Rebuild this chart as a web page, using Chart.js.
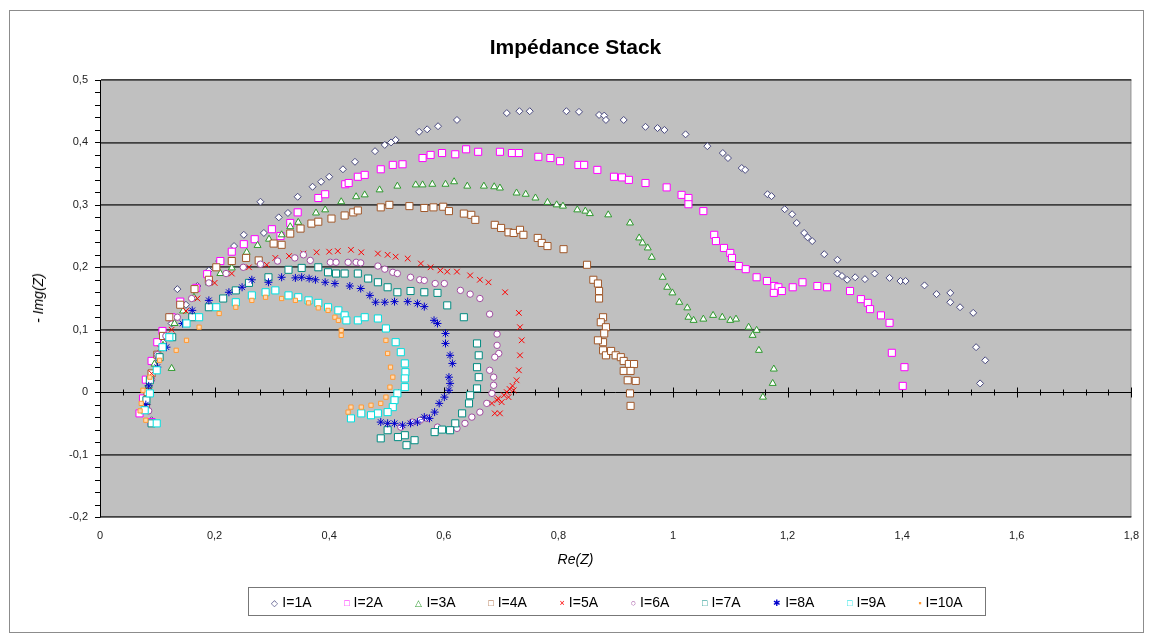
<!DOCTYPE html>
<html lang="fr">
<head>
<meta charset="UTF-8">
<title>Impédance Stack</title>
<script src="https://cdn.jsdelivr.net/npm/chart.js"></script>
<style>
    body { margin: 0; background: #fff; font-family: 'Liberation Sans', Arial, sans-serif; color: #000; }
    #wrap { position: relative; width: 1151px; height: 641px; }
    #frame { position: absolute; left: 9px; top: 10px; width: 1133px; height: 621px; border: 1px solid #8c8c8c; }
    canvas { position: absolute; left: 0; top: 0; }
    .title { position: absolute; top: 35px; left: 0; width: 1151px; text-align: center; font-weight: bold; font-size: 21px; }
    .xt { position: absolute; top: 551px; left: 0; width: 1151px; text-align: center; font-style: italic; font-size: 14px; }
    .yt { position: absolute; left: 38px; top: 298px; transform: translate(-50%, -50%) rotate(-90deg); font-style: italic; font-size: 14px; white-space: nowrap; }
    #legend { position: absolute; left: 248px; top: 587px; width: 738px; height: 29px; border: 1px solid #777; display: flex; align-items: center; justify-content: space-around; font-size: 14px; padding: 0 6px; box-sizing: border-box; }
    #legend span.m { font-size: 9px; margin-right: 4px; vertical-align: 1px; }
</style>
</head>
<body>
<div id="wrap">
    <div id="frame"></div>
    <canvas id="chart" width="1151" height="641"></canvas>
    <div class="title">Impédance Stack</div>
    <div class="xt">Re(Z)</div>
    <div class="yt">- Img(Z)</div>
    <div id="legend"></div>
</div>
<script>
// Re(Z), -Im(Z) pairs, one array per current
const i1A = [[0.09,-0.045],[0.082,-0.02],[0.085,0.01],[0.095,0.045],[0.11,0.08],[0.125,0.11],[0.135,0.165],[0.15,0.14],[0.17,0.17],[0.19,0.195],[0.208,0.21],[0.234,0.234],[0.251,0.252],[0.28,0.305],[0.286,0.255],[0.312,0.28],[0.328,0.287],[0.345,0.313],[0.371,0.329],[0.386,0.337],[0.4,0.345],[0.424,0.357],[0.445,0.369],[0.48,0.386],[0.497,0.396],[0.508,0.4],[0.516,0.404],[0.557,0.417],[0.571,0.421],[0.59,0.426],[0.623,0.436],[0.71,0.447],[0.732,0.45],[0.75,0.45],[0.814,0.45],[0.836,0.449],[0.871,0.444],[0.88,0.443],[0.883,0.436],[0.914,0.436],[0.952,0.425],[0.973,0.423],[0.985,0.42],[1.022,0.413],[1.06,0.394],[1.087,0.383],[1.096,0.375],[1.12,0.359],[1.126,0.356],[1.165,0.317],[1.172,0.314],[1.195,0.293],[1.208,0.285],[1.216,0.271],[1.229,0.255],[1.235,0.248],[1.243,0.242],[1.264,0.221],[1.287,0.212],[1.287,0.19],[1.295,0.186],[1.304,0.18],[1.318,0.184],[1.335,0.181],[1.352,0.19],[1.378,0.183],[1.397,0.178],[1.406,0.178],[1.439,0.171],[1.46,0.157],[1.484,0.159],[1.484,0.144],[1.501,0.136],[1.524,0.127],[1.529,0.072],[1.545,0.051],[1.536,0.014]];
const i2A = [[0.069,-0.034],[0.09,-0.048],[0.075,-0.01],[0.08,0.02],[0.09,0.05],[0.1,0.08],[0.109,0.098],[0.125,0.12],[0.14,0.145],[0.168,0.167],[0.187,0.189],[0.21,0.21],[0.23,0.225],[0.251,0.237],[0.27,0.245],[0.3,0.261],[0.315,0.25],[0.332,0.271],[0.345,0.288],[0.381,0.311],[0.393,0.317],[0.428,0.333],[0.434,0.335],[0.45,0.345],[0.462,0.348],[0.49,0.357],[0.511,0.364],[0.528,0.365],[0.563,0.375],[0.577,0.38],[0.597,0.383],[0.62,0.381],[0.639,0.389],[0.66,0.385],[0.698,0.385],[0.719,0.383],[0.731,0.383],[0.765,0.377],[0.786,0.375],[0.803,0.37],[0.835,0.364],[0.845,0.364],[0.868,0.356],[0.897,0.345],[0.911,0.344],[0.923,0.34],[0.952,0.335],[0.989,0.328],[1.015,0.316],[1.027,0.311],[1.027,0.301],[1.053,0.29],[1.072,0.252],[1.075,0.242],[1.089,0.231],[1.1,0.223],[1.103,0.215],[1.115,0.202],[1.127,0.197],[1.146,0.184],[1.164,0.178],[1.177,0.17],[1.184,0.168],[1.19,0.162],[1.176,0.159],[1.209,0.168],[1.226,0.176],[1.252,0.17],[1.269,0.168],[1.309,0.162],[1.328,0.149],[1.34,0.143],[1.344,0.133],[1.363,0.123],[1.378,0.111],[1.382,0.063],[1.404,0.04],[1.401,0.01]];
const i3A = [[0.08,-0.03],[0.085,0.01],[0.095,0.045],[0.11,0.075],[0.125,0.038],[0.13,0.11],[0.145,0.13],[0.164,0.152],[0.19,0.175],[0.21,0.19],[0.23,0.199],[0.256,0.224],[0.275,0.235],[0.295,0.245],[0.317,0.252],[0.332,0.265],[0.346,0.272],[0.377,0.287],[0.393,0.292],[0.421,0.305],[0.447,0.313],[0.462,0.316],[0.488,0.324],[0.519,0.33],[0.551,0.332],[0.563,0.332],[0.58,0.333],[0.603,0.333],[0.618,0.337],[0.641,0.33],[0.67,0.33],[0.688,0.329],[0.698,0.327],[0.727,0.319],[0.743,0.317],[0.76,0.311],[0.781,0.304],[0.797,0.3],[0.808,0.298],[0.833,0.292],[0.847,0.29],[0.855,0.286],[0.887,0.284],[0.925,0.271],[0.941,0.247],[0.947,0.239],[0.956,0.231],[0.963,0.216],[0.982,0.184],[0.99,0.168],[0.999,0.159],[1.011,0.144],[1.025,0.135],[1.027,0.12],[1.036,0.115],[1.053,0.117],[1.07,0.123],[1.086,0.12],[1.1,0.115],[1.11,0.117],[1.132,0.104],[1.146,0.099],[1.139,0.091],[1.15,0.067],[1.176,0.037],[1.174,0.014],[1.157,-0.008]];
const i4A = [[0.08,-0.025],[0.083,0.0],[0.09,0.03],[0.1,0.06],[0.11,0.09],[0.121,0.12],[0.14,0.14],[0.165,0.165],[0.19,0.18],[0.203,0.2],[0.23,0.21],[0.255,0.215],[0.277,0.211],[0.303,0.238],[0.317,0.236],[0.332,0.254],[0.35,0.262],[0.369,0.27],[0.381,0.273],[0.404,0.278],[0.427,0.283],[0.442,0.288],[0.45,0.291],[0.49,0.296],[0.505,0.3],[0.54,0.298],[0.566,0.295],[0.582,0.296],[0.599,0.297],[0.609,0.29],[0.635,0.286],[0.648,0.284],[0.655,0.276],[0.689,0.268],[0.7,0.263],[0.713,0.256],[0.722,0.255],[0.733,0.26],[0.739,0.252],[0.764,0.247],[0.771,0.239],[0.781,0.234],[0.809,0.229],[0.85,0.204],[0.861,0.18],[0.869,0.174],[0.871,0.162],[0.871,0.15],[0.878,0.12],[0.874,0.112],[0.883,0.104],[0.88,0.094],[0.878,0.08],[0.869,0.083],[0.878,0.067],[0.883,0.059],[0.892,0.066],[0.9,0.059],[0.909,0.056],[0.914,0.05],[0.923,0.045],[0.932,0.045],[0.914,0.034],[0.926,0.034],[0.921,0.019],[0.935,0.018],[0.925,-0.002],[0.926,-0.022]];
const i5A = [[0.08,-0.02],[0.09,0.03],[0.105,0.07],[0.125,0.1],[0.15,0.13],[0.17,0.15],[0.2,0.175],[0.23,0.19],[0.26,0.2],[0.291,0.204],[0.306,0.215],[0.33,0.218],[0.355,0.222],[0.378,0.224],[0.4,0.225],[0.415,0.226],[0.438,0.228],[0.456,0.224],[0.485,0.222],[0.502,0.22],[0.516,0.217],[0.537,0.214],[0.56,0.206],[0.577,0.2],[0.594,0.195],[0.606,0.193],[0.623,0.193],[0.646,0.187],[0.663,0.18],[0.678,0.176],[0.707,0.16],[0.731,0.127],[0.733,0.104],[0.736,0.083],[0.733,0.059],[0.731,0.035],[0.727,0.019],[0.72,0.01],[0.722,0.003],[0.715,0.005],[0.71,0.0],[0.713,-0.008],[0.705,-0.005],[0.695,-0.01],[0.701,-0.016],[0.693,-0.013],[0.684,-0.018],[0.689,-0.034],[0.698,-0.034]];
const i6A = [[0.085,-0.03],[0.09,0.02],[0.1,0.06],[0.115,0.09],[0.135,0.12],[0.16,0.15],[0.19,0.175],[0.22,0.19],[0.25,0.2],[0.28,0.205],[0.31,0.21],[0.34,0.215],[0.355,0.22],[0.367,0.211],[0.402,0.208],[0.412,0.208],[0.433,0.208],[0.447,0.208],[0.455,0.207],[0.485,0.202],[0.497,0.197],[0.511,0.192],[0.519,0.19],[0.542,0.184],[0.558,0.18],[0.566,0.179],[0.585,0.174],[0.601,0.174],[0.629,0.163],[0.646,0.157],[0.663,0.15],[0.68,0.125],[0.693,0.093],[0.693,0.075],[0.696,0.062],[0.689,0.056],[0.68,0.035],[0.687,0.024],[0.687,0.011],[0.684,-0.002],[0.675,-0.018],[0.663,-0.032],[0.649,-0.04],[0.637,-0.05],[0.623,-0.058],[0.611,-0.061],[0.589,-0.056],[0.571,-0.042],[0.559,-0.045],[0.545,-0.048],[0.525,-0.056]];
const i7A = [[0.09,-0.05],[0.081,-0.013],[0.087,0.019],[0.104,0.056],[0.126,0.088],[0.161,0.12],[0.19,0.136],[0.215,0.15],[0.237,0.163],[0.26,0.175],[0.294,0.184],[0.329,0.196],[0.352,0.199],[0.381,0.2],[0.398,0.192],[0.412,0.19],[0.427,0.19],[0.45,0.19],[0.468,0.182],[0.485,0.176],[0.502,0.168],[0.519,0.16],[0.542,0.162],[0.566,0.16],[0.589,0.159],[0.606,0.139],[0.635,0.12],[0.658,0.078],[0.661,0.059],[0.658,0.04],[0.661,0.024],[0.658,0.006],[0.646,-0.005],[0.644,-0.018],[0.632,-0.034],[0.62,-0.05],[0.611,-0.061],[0.597,-0.06],[0.584,-0.064],[0.549,-0.077],[0.535,-0.085],[0.532,-0.069],[0.52,-0.072],[0.502,-0.061],[0.49,-0.074]];
const i8A = [[0.08,-0.02],[0.085,0.01],[0.1,0.04],[0.116,0.072],[0.144,0.11],[0.161,0.131],[0.19,0.147],[0.225,0.16],[0.248,0.168],[0.265,0.18],[0.294,0.176],[0.317,0.184],[0.341,0.183],[0.352,0.184],[0.365,0.182],[0.376,0.18],[0.393,0.176],[0.41,0.174],[0.436,0.17],[0.455,0.166],[0.471,0.155],[0.481,0.144],[0.497,0.144],[0.514,0.145],[0.537,0.145],[0.554,0.142],[0.566,0.137],[0.583,0.115],[0.589,0.11],[0.603,0.094],[0.603,0.078],[0.611,0.059],[0.615,0.046],[0.609,0.024],[0.611,0.014],[0.609,0.003],[0.601,-0.008],[0.592,-0.018],[0.584,-0.032],[0.575,-0.042],[0.566,-0.04],[0.554,-0.048],[0.542,-0.05],[0.528,-0.053],[0.514,-0.05],[0.502,-0.05],[0.49,-0.048]];
const i9A = [[0.099,-0.05],[0.078,-0.029],[0.087,-0.002],[0.099,0.035],[0.109,0.072],[0.121,0.088],[0.151,0.11],[0.173,0.12],[0.203,0.136],[0.237,0.144],[0.265,0.155],[0.289,0.16],[0.306,0.163],[0.329,0.155],[0.346,0.152],[0.364,0.147],[0.381,0.143],[0.398,0.136],[0.416,0.131],[0.427,0.123],[0.43,0.115],[0.45,0.115],[0.462,0.12],[0.485,0.118],[0.499,0.102],[0.516,0.08],[0.525,0.064],[0.532,0.046],[0.533,0.032],[0.532,0.022],[0.532,0.008],[0.519,-0.002],[0.514,-0.013],[0.511,-0.024],[0.502,-0.032],[0.485,-0.034],[0.473,-0.037],[0.456,-0.034],[0.438,-0.042]];
const i10A = [[0.08,-0.045],[0.07,-0.03],[0.072,-0.018],[0.075,0.003],[0.087,0.024],[0.104,0.051],[0.133,0.067],[0.151,0.083],[0.173,0.104],[0.208,0.126],[0.237,0.136],[0.265,0.147],[0.289,0.152],[0.317,0.15],[0.341,0.147],[0.364,0.143],[0.381,0.135],[0.398,0.131],[0.41,0.12],[0.416,0.115],[0.421,0.099],[0.421,0.091],[0.499,0.083],[0.502,0.062],[0.507,0.04],[0.511,0.024],[0.506,0.008],[0.499,-0.008],[0.49,-0.018],[0.473,-0.021],[0.456,-0.024],[0.438,-0.024],[0.433,-0.032]];

const seriesNames = ['I=1A', 'I=2A', 'I=3A', 'I=4A', 'I=5A', 'I=6A', 'I=7A', 'I=8A', 'I=9A', 'I=10A'];
const seriesData = [i1A, i2A, i3A, i4A, i5A, i6A, i7A, i8A, i9A, i10A];
const xTicks = [0, 0.2, 0.4, 0.6, 0.8, 1, 1.2, 1.4, 1.6, 1.8];
const yTicks = [-0.2, -0.1, 0, 0.1, 0.2, 0.3, 0.4, 0.5];

// marker look per series (Excel 2003 style)
const looks = [
    { style: 'rectRot',   color: '#4a4a80', fill: '#ffffff', r: 3.5, glyph: '\u25C7' },
    { style: 'rect',      color: '#ff00ff', fill: '#ffffff', r: 5,   glyph: '\u25A1' },
    { style: 'triangle',  color: '#2e9a2e', fill: '#ffffff', r: 4,   glyph: '\u25B3' },
    { style: 'rect',      color: '#a0582a', fill: '#ffffff', r: 5,   glyph: '\u25A1' },
    { style: 'crossRot',  color: '#ff0000', fill: '#ff0000', r: 4,   glyph: '\u00D7' },
    { style: 'circle',    color: '#a04ca0', fill: '#ffffff', r: 3.2, glyph: '\u25CB' },
    { style: 'rect',      color: '#008b80', fill: '#ffffff', r: 5,   glyph: '\u25A1' },
    { style: 'star',      color: '#0000cc', fill: '#0000cc', r: 4,   glyph: '\u2731' },
    { style: 'rect',      color: '#00dede', fill: '#ffffff', r: 5,   glyph: '\u25A1' },
    { style: 'rect',      color: '#ff9933', fill: '#ffd9b0', r: 3,   glyph: '\u25AA' }
];

function fmt(v) {
    return String(Number(v.toFixed(2))).replace('.', ',');
}

const datasets = seriesData.map((pts, i) => ({
    label: seriesNames[i],
    data: pts.map(p => ({ x: p[0], y: p[1] })),
    showLine: false,
    pointStyle: looks[i].style,
    pointRadius: looks[i].r,
    pointBorderWidth: 1,
    borderColor: looks[i].color,
    backgroundColor: looks[i].fill,
    order: 10 - i // later series on top, like Excel
}));

const plotBg = {
    id: 'plotBg',
    beforeDraw(chart) {
        const { ctx, chartArea: a } = chart;
        ctx.save();
        ctx.fillStyle = '#c0c0c0';
        ctx.fillRect(a.left, a.top, a.right - a.left, a.bottom - a.top);
        ctx.strokeStyle = '#9a9a9a';
        ctx.beginPath();
        ctx.moveTo(a.right - 0.5, a.top);
        ctx.lineTo(a.right - 0.5, a.bottom);
        ctx.stroke();
        ctx.restore();
    }
};

// x axis crossing at y = 0 and the small tick marks
const axisMarks = {
    id: 'axisMarks',
    beforeDatasetsDraw(chart) {
        const { ctx, chartArea: a, scales: { x, y } } = chart;
        const y0 = Math.round(y.getPixelForValue(0)) + 0.5;
        ctx.save();
        ctx.strokeStyle = '#000';
        ctx.lineWidth = 1;
        ctx.beginPath();
        ctx.moveTo(a.left, y0);
        ctx.lineTo(a.right, y0);
        for (let k = 0; k <= 45; k++) {
            const px = Math.round(x.getPixelForValue(k * 0.04)) + 0.5;
            const h = k % 5 === 0 ? 5 : 3;
            ctx.moveTo(px, y0 - h);
            ctx.lineTo(px, y0 + h);
        }
        for (let k = 0; k <= 35; k++) {
            const py = Math.round(y.getPixelForValue(-0.2 + k * 0.02)) + 0.5;
            ctx.moveTo(a.left - 5, py);
            ctx.lineTo(a.left, py);
        }
        ctx.stroke();
        ctx.restore();
    }
};

new Chart(document.getElementById('chart').getContext('2d'), {
    type: 'scatter',
    data: { datasets },
    options: {
        responsive: false,
        animation: false,
        events: [],
        layout: { padding: { left: 10, top: 80, right: 16, bottom: 0 } },
        plugins: { legend: { display: false }, title: { display: false }, tooltip: { enabled: false } },
        scales: {
            x: {
                type: 'linear',
                min: 0, max: 1.8,
                afterFit(s) { s.height = 124; },
                afterBuildTicks(s) { s.ticks = xTicks.map(v => ({ value: v })); },
                grid: { display: false, drawTicks: false },
                border: { display: false },
                ticks: { callback: fmt, padding: 12, color: '#222', font: { family: "'Liberation Sans', Arial, sans-serif", size: 11 }, maxRotation: 0 }
            },
            y: {
                type: 'linear',
                min: -0.2, max: 0.5,
                afterFit(s) { s.width = 90; },
                afterBuildTicks(s) { s.ticks = yTicks.map(v => ({ value: v })); },
                grid: {
                    drawTicks: false,
                    color: c => (c.tick && Math.abs(c.tick.value) < 1e-9) ? 'rgba(0,0,0,0)' : '#404040',
                    lineWidth: 1.8
                },
                border: { display: true, color: '#000', width: 1 },
                ticks: { callback: fmt, padding: 12, color: '#222', font: { family: "'Liberation Sans', Arial, sans-serif", size: 11 } }
            }
        }
    },
    plugins: [plotBg, axisMarks]
});

// legend in the framed box under the plot
const legend = document.getElementById('legend');
seriesNames.forEach((name, i) => {
    const item = document.createElement('div');
    const m = document.createElement('span');
    m.className = 'm';
    m.style.color = looks[i].color;
    m.textContent = looks[i].glyph;
    item.appendChild(m);
    item.appendChild(document.createTextNode(name));
    legend.appendChild(item);
});
</script>
</body>
</html>
